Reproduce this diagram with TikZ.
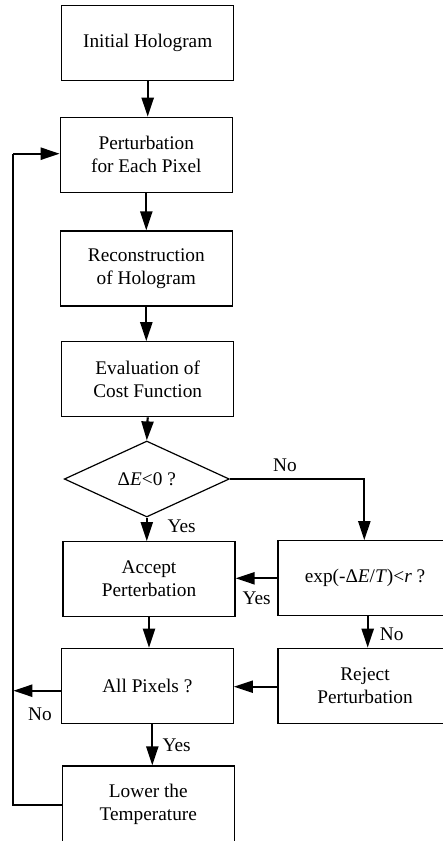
\documentclass[tikz,border=0pt]{standalone}
\usepackage{fontspec}
\setmainfont{Liberation Serif}
\usetikzlibrary{arrows.meta,shapes.geometric}
\begin{document}
\begin{tikzpicture}[x=0.5pt,y=-0.5pt,
 txt/.style={font=\fontsize{9.65}{11.5}\selectfont},
 box/.style={txt,draw,line width=0.6pt,minimum width=86pt,minimum height=37.5pt,inner sep=0pt,align=center},
 rbox/.style={box,minimum width=87pt},
 arr/.style={line width=1.1pt,-{Triangle[length=9.5pt,width=6pt]}},
 link/.style={line width=1.1pt},
 lbl/.style={txt,inner sep=0pt}]
\useasboundingbox (0,0) rectangle (443,841);
\clip (0,0) rectangle (443,841);
\node[box] (init) at (147.7,43) {Initial Hologram};
\node[box] (pert) at (146.3,154.8) {Perturbation\\for Each Pixel};
\node[box] (recon) at (146.3,268.5) {Reconstruction\\of Hologram};
\node[box] (eval) at (147.7,379.3) {Evaluation of\\Cost Function};
\node[txt,draw,line width=0.6pt,diamond,aspect=2.17,minimum width=82.5pt,minimum height=38pt,inner sep=0pt] (dec) at (146.8,479) {Δ\textit{E}<0 ?};
\node[box] (acc) at (149,579.2) {Accept\\Perterbation};
\node[rbox] (exp) at (365,578.3) {exp(-Δ\textit{E}/\textit{T})<\textit{r} ?};
\node[rbox] (rej) at (365,685.8) {Reject\\Perturbation};
\node[box] (all) at (147.3,685.8) {All Pixels ?};
\node[box,minimum height=38.5pt] (low) at (148.3,804.5) {Lower the\\Temperature};
\coordinate (c1) at (364.3,479);
\coordinate (lx) at (13.3,690.7);
\coordinate (lb) at (13.3,805);
\coordinate (lt) at (13.3,153.7);
\draw[arr] (init.south) -- (init.south |- pert.north);
\draw[arr] (pert.south) -- (pert.south |- recon.north);
\draw[arr] (recon.south) -- (recon.south |- eval.north);
\draw[arr] (eval.south) -- (dec.north);
\draw[arr] (dec.south) -- (dec.south |- acc.north);
\draw[arr] (dec.east) -- (c1) -- (c1 |- exp.north);
\draw[arr] (exp.west |- 0,578.3) -- (acc.east |- 0,578.3);
\draw[arr] ([xshift=1.35pt]exp.south) -- ([xshift=1.35pt]exp.south |- rej.north);
\draw[arr] (acc.south) -- (acc.south |- all.north);
\draw[arr] (rej.west |- 0,686.7) -- (all.east |- 0,686.7);
\draw[arr] (all.west |- lx) -- (lx);
\draw[arr] ([xshift=2.5pt]all.south) -- ([xshift=2.5pt]all.south |- low.north);
\draw[link] (low.west |- lb) -- (lb) -- (lt);
\draw[arr] (lt) -- (pert.west |- lt);
\node[lbl] (l1) at (285,465) {No};
\node[lbl] (l2) at (181.7,526.7) {Yes};
\node[lbl] (l3) at (256.7,598.3) {Yes};
\node[lbl] (l4) at (391.7,634) {No};
\node[lbl] (l5) at (40,714) {No};
\node[lbl] (l6) at (176.7,745) {Yes};
\end{tikzpicture}
\end{document}
